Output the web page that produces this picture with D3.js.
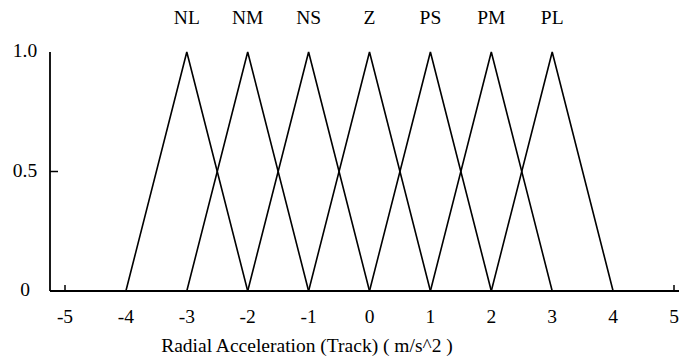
<!DOCTYPE html>
<html>
<head>
<meta charset="utf-8">
<script src="https://cdn.jsdelivr.net/npm/d3@7"></script>
<style>
  body { margin: 0; background: #fff; }
</style>
</head>
<body>
<div id="chart"></div>
<script>
const labels = ['NL', 'NM', 'NS', 'Z', 'PS', 'PM', 'PL'];
const centers = [-3, -2, -1, 0, 1, 2, 3];
const halfWidth = 1;
const xTicks = [-5, -4, -3, -2, -1, 0, 1, 2, 3, 4, 5];
const yTicks = [0, 0.5, 1.0];
const yTickLabels = ['0', '0.5', '1.0'];
const xTitle = 'Radial Acceleration (Track) ( m/s^2 )';

const width = 679;
const height = 360;
const fontSize = 19.5;

const x = d3.scaleLinear().domain([-5, 5]).range([65, 674]);
const y = d3.scaleLinear().domain([0, 1]).range([291, 52]);

const svg = d3.select('#chart')
    .append('svg')
    .attr('width', width)
    .attr('height', height);

// axes lines
svg.append('line')
    .attr('x1', 50).attr('x2', width)
    .attr('y1', y(0)).attr('y2', y(0))
    .attr('stroke', '#000').attr('stroke-width', 1.8);
svg.append('line')
    .attr('x1', 50).attr('x2', 50)
    .attr('y1', y(0)).attr('y2', y(1))
    .attr('stroke', '#000').attr('stroke-width', 1.8);

// x ticks at the ends only point up
svg.selectAll('.xtick')
    .data([-5, 5])
    .enter()
    .append('line')
    .attr('x1', d => x(d)).attr('x2', d => x(d))
    .attr('y1', y(0)).attr('y2', y(0) - 6)
    .attr('stroke', '#000').attr('stroke-width', 1.5);

svg.selectAll('.xlabel')
    .data(xTicks)
    .enter()
    .append('text')
    .attr('x', d => x(d))
    .attr('y', 323)
    .attr('text-anchor', 'middle')
    .attr('font-family', 'Liberation Serif')
    .attr('font-size', fontSize)
    .text(d => d);

// y tick at 0.5
svg.append('line')
    .attr('x1', 50).attr('x2', 58)
    .attr('y1', y(0.5)).attr('y2', y(0.5))
    .attr('stroke', '#000').attr('stroke-width', 1.5);

svg.selectAll('.ylabel')
    .data(yTicks)
    .enter()
    .append('text')
    .attr('x', 25)
    .attr('y', d => y(d) + 5)
    .attr('text-anchor', 'middle')
    .attr('font-family', 'Liberation Serif')
    .attr('font-size', fontSize)
    .text((d, i) => yTickLabels[i]);

// membership triangles
const line = d3.line().x(d => x(d[0])).y(d => y(d[1]));
svg.selectAll('.mf')
    .data(centers)
    .enter()
    .append('path')
    .attr('d', c => line([[c - halfWidth, 0], [c, 1], [c + halfWidth, 0]]))
    .attr('fill', 'none')
    .attr('stroke', '#000')
    .attr('stroke-width', 1.6)
    .attr('stroke-linejoin', 'miter');

svg.selectAll('.mflabel')
    .data(centers)
    .enter()
    .append('text')
    .attr('x', c => x(c))
    .attr('y', 24)
    .attr('text-anchor', 'middle')
    .attr('font-family', 'Liberation Serif')
    .attr('font-size', fontSize)
    .text((c, i) => labels[i]);

svg.append('text')
    .attr('x', 307)
    .attr('y', 352)
    .attr('text-anchor', 'middle')
    .attr('font-family', 'Liberation Serif')
    .attr('font-size', fontSize)
    .text(xTitle);
</script>
</body>
</html>
